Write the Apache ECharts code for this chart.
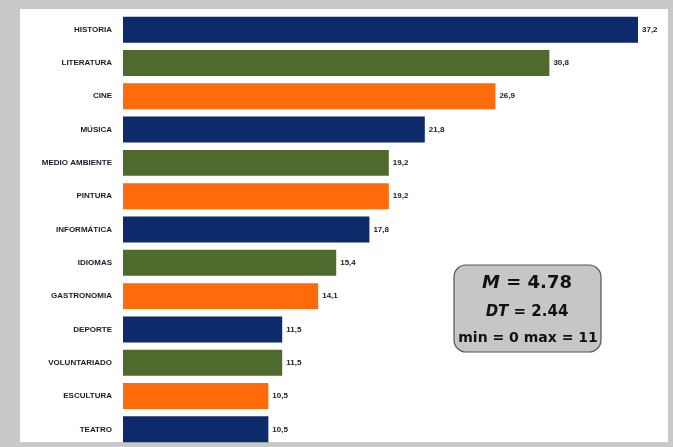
<!DOCTYPE html>
<html><head><meta charset="utf-8">
<script src="https://cdn.jsdelivr.net/npm/echarts@6/dist/echarts.min.js"></script>
<style>html,body{margin:0;padding:0;background:#c9c9c9;}#c{width:673px;height:447px;}</style>
</head><body><div id="c"></div>
<script>
const categories = ['HISTORIA','LITERATURA','CINE','MÚSICA','MEDIO AMBIENTE','PINTURA','INFORMÁTICA','IDIOMAS','GASTRONOMIA','DEPORTE','VOLUNTARIADO','ESCULTURA','TEATRO'];
const values = [37.2,30.8,26.9,21.8,19.2,19.2,17.8,15.4,14.1,11.5,11.5,10.5,10.5];
const palette = ['#0d2a6b','#4e6a2c','#ff6a0a'];
const statLines = ['M = 4.78','DT = 2.44','min = 0 max = 11'];

const boxFont = '"DejaVu Sans"';
const chart = echarts.init(document.getElementById('c'));
chart.setOption({
  backgroundColor: '#c9c9c9',
  animation: false,
  graphic: [
    {type:'rect', shape:{x:20,y:9,width:648,height:433}, style:{fill:'#ffffff'}, z:-10},
    {type:'rect', shape:{x:454,y:265,width:147,height:87,r:12}, style:{fill:'#c6c6c6',stroke:'#555555',lineWidth:1.2}, z:10},
    {type:'text', x:527, y:283, style:{text:'{i|M} = 4.78', rich:{i:{fontStyle:'italic',fontWeight:'bold',fontSize:18,fontFamily:boxFont,fill:'#111'}}, font:'bold 18px ' + boxFont, fill:'#111', align:'center', verticalAlign:'middle'}, z:11},
    {type:'text', x:527, y:312, style:{text:'{i|DT} = 2.44', rich:{i:{fontStyle:'italic',fontWeight:'bold',fontSize:15,fontFamily:boxFont,fill:'#111'}}, font:'bold 15px ' + boxFont, fill:'#111', align:'center', verticalAlign:'middle'}, z:11},
    {type:'text', x:528, y:338, style:{text:statLines[2], font:'bold 14px ' + boxFont, fill:'#111', align:'center', verticalAlign:'middle'}, z:11}
  ],
  grid: {left:123, right:35, top:13, bottom:1, containLabel:false},
  xAxis: {type:'value', min:0, max:37.2, show:false, splitLine:{show:false}},
  yAxis: {type:'category', data:categories, inverse:true,
    axisLine:{show:false}, axisTick:{show:false},
    axisLabel:{margin:11, fontSize:8, fontWeight:'bold', color:'#1a1a2a', fontFamily:'Liberation Sans'}},
  series: [{
    type:'bar', barCategoryGap:'22%',
    data: values.map((v,i)=>({value:v, itemStyle:{color:palette[i%3]}})),
    label:{show:true, position:'right', distance:4, fontSize:8, fontWeight:'bold', color:'#222',
      fontFamily:'Liberation Sans', formatter:p=>String(p.value).replace('.',',')}
  }]
});
</script></body></html>
